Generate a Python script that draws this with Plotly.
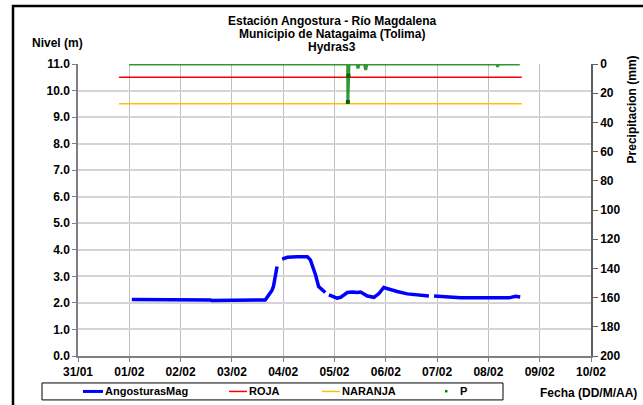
import plotly.graph_objects as go

# ---- data ----
nivel_fechas = [
    "2011-02-01 01:12", "2011-02-01 14:24", "2011-02-01 15:07", "2011-02-02 13:55",
    "2011-02-02 14:38", "2011-02-03 06:58", "2011-02-03 07:55", "2011-02-03 15:36",
    "2011-02-03 18:43", "2011-02-03 19:26", "2011-02-03 21:07", "2011-02-03 22:20",
    "2011-02-03 23:31", "2011-02-04 01:55", "2011-02-04 06:29", "2011-02-04 11:17",
    "2011-02-04 12:43", "2011-02-04 15:07", "2011-02-04 16:34", "2011-02-04 18:43",
    "2011-02-04 19:41", "2011-02-04 20:30",
    "2011-02-04 21:22", "2011-02-05 01:12", "2011-02-05 02:53", "2011-02-05 06:00",
    "2011-02-05 08:24", "2011-02-05 10:34", "2011-02-05 12:14", "2011-02-05 15:22",
    "2011-02-05 18:29", "2011-02-05 20:53", "2011-02-05 23:02", "2011-02-06 01:26",
    "2011-02-06 05:17", "2011-02-06 10:05", "2011-02-06 14:38", "2011-02-06 20:10",
    "2011-02-06 21:20",
    "2011-02-06 22:34", "2011-02-07 03:22", "2011-02-07 11:02", "2011-02-08 09:36",
    "2011-02-08 12:43", "2011-02-08 14:53",
]
nivel_valores = [
    2.13, 2.13, 2.11, 2.11,
    2.09, 2.09, 2.11, 2.11,
    2.47, 2.62, 3.37, None,
    3.65, 3.72, 3.74, 3.74,
    3.62, 3.06, 2.62, 2.43,
    2.39, None,
    2.30, 2.18, 2.21, 2.39,
    2.41, 2.39, 2.41, 2.26,
    2.21, 2.36, 2.58, 2.52,
    2.43, 2.34, 2.29, 2.26,
    None,
    2.26, 2.23, 2.19, 2.19,
    2.25, 2.22,
]

alerta_fechas = ["2011-01-31 19:12", "2011-02-08 15:36"]
roja_valores = [10.5, 10.5]
naranja_valores = [9.5, 9.5]

p_fechas = [
    "2011-02-01 00:00", "2011-02-05 06:10", "2011-02-05 06:15", "2011-02-05 06:30",
    "2011-02-05 06:45", "2011-02-05 07:30", "2011-02-05 10:30", "2011-02-05 11:00",
    "2011-02-05 11:30", "2011-02-05 14:00", "2011-02-05 14:36", "2011-02-05 15:10",
    "2011-02-08 04:00", "2011-02-08 04:20", "2011-02-08 04:40", "2011-02-08 14:40",
]
p_valores = [0, 0, 26, 8, 1, 0, 0, 3, 0, 0, 4, 0, 0, 2, 0, 0]

x_ticks = ["2011-01-31", "2011-02-01", "2011-02-02", "2011-02-03", "2011-02-04", "2011-02-05",
           "2011-02-06", "2011-02-07", "2011-02-08", "2011-02-09", "2011-02-10"]
x_ticklabels = ["31/01", "01/02", "02/02", "03/02", "04/02", "05/02",
                "06/02", "07/02", "08/02", "09/02", "10/02"]
y_ticks = [0, 1, 2, 3, 4, 5, 6, 7, 8, 9, 10, 11]
y2_ticks = [0, 20, 40, 60, 80, 100, 120, 140, 160, 180, 200]

serie_nombres = ["AngosturasMag", "ROJA", "NARANJA", "P"]
serie_colores = ["#0000ff", "#ff0000", "#ffc000", "#008000"]
titulo_lineas = ["Estación Angostura - Río Magdalena", "Municipio de Natagaima (Tolima)", "Hydras3"]

FONT = "Liberation Sans, Arial, sans-serif"
bold = dict(family=FONT, size=12, color="black", weight="bold")

# plot-area geometry in pixels (used only to place layout decorations)
L, R, T, B = 78, 591, 63.5, 356
W, H = R - L, B - T
def px(x): return (x - L) / W
def py(y): return (B - y) / H

fig = go.Figure()
fig.add_trace(go.Scatter(x=nivel_fechas, y=nivel_valores, mode="lines", name=serie_nombres[0],
                         line=dict(color=serie_colores[0], width=3.5), connectgaps=False))
fig.add_trace(go.Scatter(x=alerta_fechas, y=roja_valores, mode="lines", name=serie_nombres[1],
                         line=dict(color=serie_colores[1], width=1.5)))
fig.add_trace(go.Scatter(x=alerta_fechas, y=naranja_valores, mode="lines", name=serie_nombres[2],
                         line=dict(color=serie_colores[2], width=1.5)))
fig.add_trace(go.Scatter(x=p_fechas, y=p_valores, mode="lines", name=serie_nombres[3], yaxis="y2",
                         line=dict(color=serie_colores[3], width=3), opacity=0.8))
fig.add_trace(go.Scatter(x=[p_fechas[2], p_fechas[3]], y=[p_valores[2], p_valores[3]],
                         mode="markers", name=serie_nombres[3], yaxis="y2",
                         marker=dict(color="#006400", size=4, symbol="square")))

fig.update_layout(
    width=643, height=405,
    margin=dict(l=L, r=643 - R, t=T, b=405 - B, autoexpand=False),
    paper_bgcolor="white", plot_bgcolor="white",
    font=dict(family=FONT, size=12, color="black"),
    showlegend=False,
    xaxis=dict(type="date", range=["2011-01-31", "2011-02-10"],
               tickvals=x_ticks, ticktext=x_ticklabels, tickfont=bold,
               showgrid=True, gridcolor="#c0c0c0", gridwidth=1,
               showline=True, linecolor="#808080", linewidth=1.5,
               ticks="outside", ticklen=4, tickcolor="#808080", zeroline=False),
    yaxis=dict(range=[0, 11], tickvals=y_ticks, tickformat=".1f", tickfont=bold,
               showgrid=True, gridcolor="#d4d4d4", gridwidth=1.5,
               showline=True, linecolor="#808080", linewidth=1.5,
               ticks="outside", ticklen=4, tickcolor="#808080", zeroline=False),
    yaxis2=dict(range=[200, 0], tickvals=y2_ticks, overlaying="y", side="right",
                tickfont=bold, showgrid=False, showline=True, linecolor="#606060",
                linewidth=1.5, ticks="outside", ticklen=5, tickcolor="#606060",
                zeroline=False),
)

# outer chart border
fig.add_shape(type="rect", xref="paper", yref="paper",
              x0=px(13), x1=px(660), y0=py(420), y1=py(5.5),
              line=dict(color="black", width=2.5), fillcolor="rgba(0,0,0,0)", layer="above")

# title lines
for i, t in enumerate(titulo_lineas):
    fig.add_annotation(text=t, xref="paper", yref="paper", x=px(332), y=py(20 + 13 * i),
                       xanchor="center", yanchor="middle", showarrow=False,
                       font=dict(family=FONT, size=12, color="black", weight="bold"))

fig.add_annotation(text="Nivel (m)", xref="paper", yref="paper",
                   x=px(30), y=py(42), xanchor="left", yanchor="middle",
                   showarrow=False, font=bold)
fig.add_annotation(text="Precipitacion (mm)", xref="paper", yref="paper", textangle=-90,
                   x=px(632), y=py(109), xanchor="center", yanchor="middle",
                   showarrow=False, font=bold)
fig.add_annotation(text="Fecha (DD/M/AA)", xref="paper", yref="paper",
                   x=px(538), y=py(393), xanchor="left", yanchor="middle",
                   showarrow=False, font=bold)

# legend box (drawn as layout decoration)
fig.add_shape(type="rect", xref="paper", yref="paper", x0=px(42), x1=px(503),
              y0=py(400), y1=py(383), line=dict(color="black", width=1),
              fillcolor="white", layer="above")
leg_sym_x = [(83, 103), (229, 247), (322, 340), None]
leg_text_x = [103, 247, 340, 458]
leg_widths = [3, 1.5, 1.5, 0]
ly = py(391.5)
for i, nombre in enumerate(serie_nombres):
    if leg_sym_x[i] is not None:
        x0, x1 = leg_sym_x[i]
        fig.add_shape(type="line", xref="paper", yref="paper", x0=px(x0), x1=px(x1),
                      y0=ly, y1=ly, line=dict(color=serie_colores[i], width=leg_widths[i]),
                      layer="above")
    else:
        fig.add_shape(type="rect", xref="paper", yref="paper", x0=px(445), x1=px(447.5),
                      y0=py(392.5), y1=py(390), line=dict(width=0),
                      fillcolor=serie_colores[i], layer="above")
    fig.add_annotation(text=nombre, xref="paper", yref="paper", x=px(leg_text_x[i]), y=ly,
                       xanchor="left", yanchor="middle", showarrow=False,
                       font=dict(family=FONT, size=11, color="black", weight="bold"))

fig.write_html("out.html", config={"displayModeBar": False},
               post_script="document.body.style.margin='0';document.body.style.overflow='hidden';")
